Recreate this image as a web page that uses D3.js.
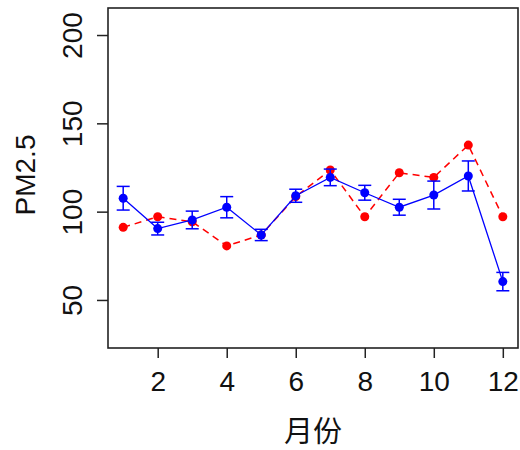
<!DOCTYPE html>
<html>
<head>
<meta charset="utf-8">
<script src="https://cdn.jsdelivr.net/npm/d3@7"></script>
<style>
  html, body { margin: 0; padding: 0; background: #fff; }
  svg { display: block; }
</style>
</head>
<body>
<div id="chart"></div>
<script>
// ---- data ----
const months = [1, 2, 3, 4, 5, 6, 7, 8, 9, 10, 11, 12];
const blueMean = [107.6, 90.4, 95.3, 102.5, 86.8, 109, 119.4, 110.7, 102.5, 109.4, 120.2, 60.4];
const blueErr  = [6.7, 3.6, 5.0, 6.0, 3.2, 3.7, 4.7, 4.2, 4.5, 7.9, 8.5, 5.2];
const redVals  = [91.1, 97.1, 94.3, 80.6, 86.8, 108.5, 123.6, 97.1, 122, 119.4, 137.7, 97.1];
const xTicks = [2, 4, 6, 8, 10, 12];
const yTicks = [50, 100, 150, 200];
const xTitle = "月份";
const yTitle = "PM2.5";

// ---- layout ----
const W = 520, H = 450;
const L = 108, R = 518, T = 8, B = 348;

const svg = d3.select("#chart").append("svg").attr("width", W).attr("height", H);

const x = d3.scaleLinear().domain([0.56, 12.44]).range([L, R]);
const y = d3.scaleLinear().domain([22.8, 215.3]).range([B, T]);

const font = "'Liberation Sans', Arial, sans-serif";

// x axis
const gx = svg.append("g").attr("transform", `translate(0,${B})`)
  .call(d3.axisBottom(x).tickValues(xTicks).tickSize(10).tickPadding(13).tickFormat(d3.format("d")));
gx.select(".domain").remove();
gx.selectAll(".tick line").attr("stroke", "#222").attr("stroke-width", 1.5);
gx.selectAll(".tick text").attr("font-family", font).attr("font-size", 28).attr("fill", "#111");

// y axis
const gy = svg.append("g").attr("transform", `translate(${L},0)`)
  .call(d3.axisLeft(y).tickValues(yTicks).tickSize(11).tickFormat(d3.format("d")));
gy.select(".domain").remove();
gy.selectAll(".tick line").attr("stroke", "#222").attr("stroke-width", 1.5);
gy.selectAll(".tick text")
  .attr("font-family", font).attr("font-size", 28).attr("fill", "#111")
  .attr("x", null).attr("dy", null).attr("y", null)
  .attr("text-anchor", "middle")
  .attr("transform", `translate(${81.5 - L},0) rotate(-90)`);

// box
svg.append("rect").attr("x", L).attr("y", T).attr("width", R - L).attr("height", B - T)
  .attr("fill", "none").attr("stroke", "#222").attr("stroke-width", 1.6);

// red dashed series
const red = months.map((m, i) => ({ m, v: redVals[i] }));
const blue = months.map((m, i) => ({ m, v: blueMean[i], e: blueErr[i] }));
const line = d3.line().x(d => x(d.m)).y(d => y(d.v));

svg.append("path").datum(red).attr("d", line)
  .attr("fill", "none").attr("stroke", "#ff0000").attr("stroke-width", 1.5)
  .attr("stroke-dasharray", "7,5");
svg.append("g").selectAll("circle").data(red).join("circle")
  .attr("cx", d => x(d.m)).attr("cy", d => y(d.v)).attr("r", 4.5).attr("fill", "#ff0000");

// blue series with error bars
svg.append("path").datum(blue).attr("d", line)
  .attr("fill", "none").attr("stroke", "#0000ff").attr("stroke-width", 1.3);
const eb = svg.append("g").attr("stroke", "#0000ff").attr("stroke-width", 1.5);
eb.selectAll("line.v").data(blue).join("line").attr("class", "v")
  .attr("x1", d => x(d.m)).attr("x2", d => x(d.m))
  .attr("y1", d => y(d.v - d.e)).attr("y2", d => y(d.v + d.e));
eb.selectAll("line.t").data(blue).join("line").attr("class", "t")
  .attr("x1", d => x(d.m) - 6.5).attr("x2", d => x(d.m) + 6.5)
  .attr("y1", d => y(d.v + d.e)).attr("y2", d => y(d.v + d.e));
eb.selectAll("line.b").data(blue).join("line").attr("class", "b")
  .attr("x1", d => x(d.m) - 6.5).attr("x2", d => x(d.m) + 6.5)
  .attr("y1", d => y(d.v - d.e)).attr("y2", d => y(d.v - d.e));
svg.append("g").selectAll("circle").data(blue).join("circle")
  .attr("cx", d => x(d.m)).attr("cy", d => y(d.v)).attr("r", 4.5).attr("fill", "#0000ff");

// titles
svg.append("text").attr("x", (L + R) / 2).attr("y", 442)
  .attr("text-anchor", "middle").attr("font-family", "'Noto Sans CJK SC', sans-serif")
  .attr("font-size", 29).attr("fill", "#111").text(xTitle);
svg.append("text").attr("transform", `translate(35,${(T + B) / 2 - 3}) rotate(-90)`)
  .attr("text-anchor", "middle").attr("font-family", font)
  .attr("font-size", 28).attr("fill", "#111").text(yTitle);
</script>
</body>
</html>
